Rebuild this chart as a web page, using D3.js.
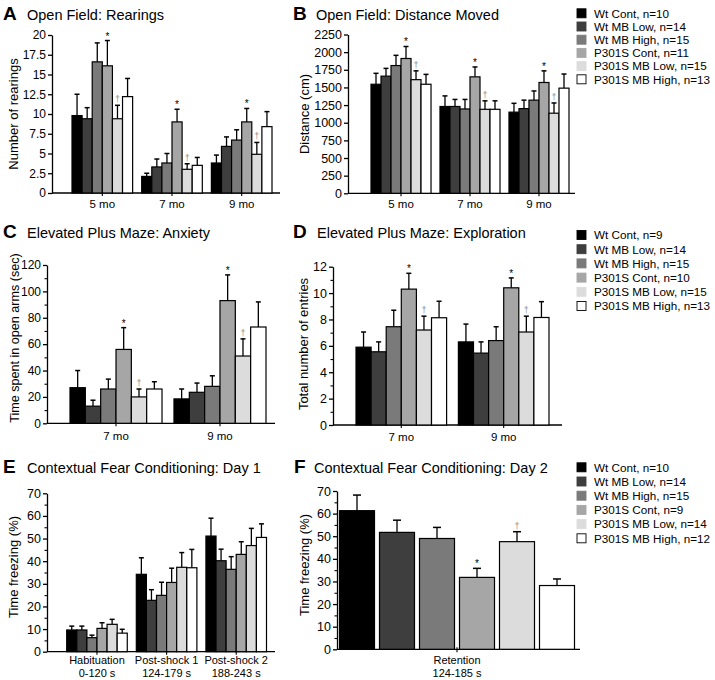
<!DOCTYPE html>
<html><head><meta charset="utf-8">
<script src="https://cdn.jsdelivr.net/npm/d3@7"></script>
<style>
body{margin:0;background:#fff;}
text{font-family:"Liberation Sans",Arial,Helvetica,sans-serif;fill:#000;}
</style></head>
<body>
<svg id="chart" width="715" height="680"></svg>
<script>
// ---------- DATA ----------
const seriesNames = ["Wt Cont","Wt MB Low","Wt MB High","P301S Cont","P301S MB Low","P301S MB High"];
const legendN1 = [10,14,15,11,15,13];
const legendN2 = [9,14,15,10,15,13];
const legendN3 = [10,14,15,9,14,12];

const rearingsCats = ["5 mo","7 mo","9 mo"];
const rearingsMean = [[9.8,9.4,16.6,16.1,9.4,12.2],[2.1,3.3,3.8,9.0,3.0,3.5],[3.8,5.9,6.7,9.0,4.9,8.4]];
const rearingsSem  = [[2.7,1.4,2.4,3.2,1.7,2.3],[0.4,1.0,1.2,1.6,0.7,1.0],[1.0,1.2,1.3,1.7,1.5,1.9]];
const rearingsStar = [3,3,3];
const rearingsDagger = [4,4,4];
const rearingsTicks = [0,2.5,5,7.5,10,12.5,15,17.5,20];

const distanceCats = ["5 mo","7 mo","9 mo"];
const distanceMean = [[1545,1660,1810,1910,1610,1545],[1230,1230,1195,1650,1190,1190],[1150,1200,1320,1570,1135,1490]];
const distanceSem  = [[155,110,145,170,125,140],[150,100,135,140,120,120],[125,120,130,165,145,200]];
const distanceStar = [3,3,3];
const distanceDagger = [4,4,4];
const distanceTicks = [0,250,500,750,1000,1250,1500,1750,2000,2250];

const anxietyCats = ["7 mo","9 mo"];
const anxietyMean = [[27,13,26,56,20,26],[18.5,23.5,28,93,51,73]];
const anxietySem  = [[13,4.5,7.5,16.5,6,5.5],[7.5,7,8,19.5,13,19]];
const anxietyStar = [3,3];
const anxietyDagger = [4,4];
const anxietyTicks = [0,20,40,60,80,100,120];
const anxietyMinor = [10,30,50,70,90,110];

const exploreCats = ["7 mo","9 mo"];
const exploreMean = [[5.9,5.55,7.45,10.3,7.2,8.13],[6.3,5.45,6.4,10.4,7.05,8.15]];
const exploreSem  = [[1.15,0.75,1.25,1.2,1.05,1.25],[1.35,0.85,1.05,0.75,1.2,1.2]];
const exploreStar = [3,3];
const exploreDagger = [4,4];
const exploreTicks = [0,2,4,6,8,10,12];
const exploreMinor = [1,3,5,7,9,11];

const day1Cats = ["Habituation\n0-120 s","Post-shock 1\n124-179 s","Post-shock 2\n188-243 s"];
const day1Mean = [[9.6,9.6,6.2,10.3,12.1,8.2],[34.2,22.7,24.9,30.6,37.3,37.1],[51.1,40.2,36.4,43,46.9,50.5]];
const day1Sem  = [[1.7,1.7,1.1,2.5,2.2,1.7],[7.3,4.7,5.8,6.3,6.5,8.1],[7.9,5.1,5.6,5.6,7.6,6.0]];
const day1Star = [null,null,null];
const day1Dagger = [null,null,null];
const freezeTicks = [0,10,20,30,40,50,60,70];
const freezeMinor = [5,15,25,35,45,55,65];

const day2Cats = ["Retention\n124-185 s"];
const day2Mean = [[61.3,51.7,49.0,31.8,47.6,28.2]];
const day2Sem  = [[6.9,5.4,4.9,4.0,4.4,2.9]];
const day2Star = [3];
const day2Dagger = [4];

// ---------- STYLE ----------
const fills = ["#000000","#3e3e3e","#7a7a7a","#a6a6a6","#dcdcdc","#ffffff"];
const FONT = '"Liberation Sans",Arial,Helvetica,sans-serif';

const svg = d3.select("#chart");

function drawPanel(cfg, cats, mean, sem, stars, daggers, ticks, minor){
  const g = svg.append("g");
  const y = d3.scaleLinear().domain([0, ticks[ticks.length-1]]).range([cfg.y0, cfg.yTop]);
  const x0 = d3.scaleBand().domain(cats).range(cfg.band).paddingInner(cfg.padGroup).paddingOuter(0);
  const x1 = d3.scaleBand().domain(d3.range(6)).range([0, x0.bandwidth()]).paddingInner(cfg.padBar);

  // title
  g.append("text").attr("x", cfg.letterX).attr("y", cfg.titleY)
    .attr("font-size", 19).attr("font-weight", "bold").text(cfg.letter);
  g.append("text").attr("x", cfg.titleX).attr("y", cfg.titleY)
    .attr("font-size", 14.5).text(cfg.title);

  // y axis
  const ay = g.append("g").attr("transform", `translate(${cfg.axisX},0)`)
    .call(d3.axisLeft(y).tickValues(ticks).tickSizeInner(4).tickSizeOuter(0).tickPadding(2)
      .tickFormat(d => String(d)));
  ay.selectAll("text").attr("font-size", cfg.tickFont).attr("font-family", FONT).style("fill", "#000");
  ay.selectAll("line,path").attr("stroke", "#000").attr("stroke-width", 1.3);
  if (minor) {
    g.append("g").attr("transform", `translate(${cfg.axisX},0)`)
      .call(d3.axisLeft(y).tickValues(minor).tickSizeInner(2.5).tickSizeOuter(0).tickFormat(""))
      .call(s => s.select(".domain").remove())
      .selectAll("line").attr("stroke", "#000").attr("stroke-width", 1.1);
  }
  // y title
  g.append("text")
    .attr("transform", `translate(${cfg.yTitleX},${cfg.yTitleCY}) rotate(-90)`)
    .attr("text-anchor", "middle").attr("font-size", cfg.yTitleFont).text(cfg.yTitle);

  // x axis line
  g.append("line").attr("x1", cfg.axisX).attr("x2", cfg.axisEnd)
    .attr("y1", y(0)).attr("y2", y(0)).attr("stroke", "#000").attr("stroke-width", 1.3);

  cats.forEach((c, gi) => {
    const gx = x0(c);
    const cx = gx + x0.bandwidth()/2;
    g.append("line").attr("x1", cx).attr("x2", cx).attr("y1", y(0) - 2).attr("y2", y(0) + 3)
      .attr("stroke", "#000").attr("stroke-width", 1.1);
    const lines = c.split("\n");
    const t = g.append("text").attr("text-anchor", "middle").attr("font-size", cfg.catFont);
    lines.forEach((ln, li) => {
      t.append("tspan").attr("x", cx).attr("y", cfg.catY + li * 13.5).text(ln);
    });
    mean[gi].forEach((v, i) => {
      const bx = gx + x1(i);
      const bw = x1.bandwidth();
      const top = v + sem[gi][i];
      const mx = bx + bw/2;
      g.append("line").attr("x1", mx).attr("x2", mx).attr("y1", y(v)).attr("y2", y(top))
        .attr("stroke", "#000").attr("stroke-width", 1.3);
      g.append("line").attr("x1", mx - cfg.cap/2).attr("x2", mx + cfg.cap/2)
        .attr("y1", y(top)).attr("y2", y(top)).attr("stroke", "#000").attr("stroke-width", 1.5);
      g.append("rect").attr("x", bx).attr("y", y(v)).attr("width", bw).attr("height", y(0) - y(v))
        .attr("fill", fills[i]).attr("stroke", "#000").attr("stroke-width", 1.2);
      if (stars[gi] === i) {
        g.append("text").attr("x", mx).attr("y", y(top) - 1).attr("text-anchor", "middle")
          .attr("font-size", 10).style("fill", "#000").text("*");
      }
      if (daggers[gi] === i) {
        g.append("text").attr("x", mx).attr("y", y(top) - 3).attr("text-anchor", "middle")
          .attr("font-size", 9).style("fill", "#8c8c8c").text("\u2020");
      }
    });
  });
}

function drawLegend(x, y0, step, ns){
  const g = svg.append("g");
  seriesNames.forEach((name, i) => {
    const cy = y0 + i * step;
    g.append("rect").attr("x", x).attr("y", cy - 4.5).attr("width", 9).attr("height", 9)
      .attr("fill", fills[i]).attr("stroke", i === 5 ? "#000" : fills[i]).attr("stroke-width", 0.9);
    g.append("text").attr("x", x + 17).attr("y", cy + 4.3).attr("font-size", 11.7)
      .text(`${name}, n=${ns[i]}`);
  });
}

drawPanel({letter:"A", letterX:3, titleX:27, titleY:20, title:"Open Field: Rearings",
  axisX:52, axisEnd:280, y0:193, yTop:35, band:[72,272], padGroup:0.13, padBar:0, cap:5,
  yTitle:"Number of rearings", yTitleX:18, yTitleCY:114, yTitleFont:13, tickFont:12, catFont:11.5, catY:208},
  rearingsCats, rearingsMean, rearingsSem, rearingsStar, rearingsDagger, rearingsTicks, null);

drawPanel({letter:"B", letterX:293, titleX:316, titleY:20, title:"Open Field: Distance Moved",
  axisX:348, axisEnd:575, y0:193.3, yTop:34.5, band:[371,569], padGroup:0.13, padBar:0, cap:5,
  yTitle:"Distance (cm)", yTitleX:309, yTitleCY:114, yTitleFont:13, tickFont:12.5, catFont:11.5, catY:208},
  distanceCats, distanceMean, distanceSem, distanceStar, distanceDagger, distanceTicks, null);

drawPanel({letter:"C", letterX:3, titleX:27, titleY:238, title:"Elevated Plus Maze: Anxiety",
  axisX:47, axisEnd:275, y0:423.3, yTop:265, band:[70,266], padGroup:0.115, padBar:0, cap:5,
  yTitle:"Time spent in open arms (sec)", yTitleX:18.5, yTitleCY:338, yTitleFont:12.6, tickFont:12, catFont:11.5, catY:440},
  anxietyCats, anxietyMean, anxietySem, anxietyStar, anxietyDagger, anxietyTicks, anxietyMinor);

drawPanel({letter:"D", letterX:293, titleX:317, titleY:238, title:"Elevated Plus Maze: Exploration",
  axisX:333, axisEnd:562, y0:425, yTop:266.7, band:[356,549], padGroup:0.115, padBar:0, cap:5,
  yTitle:"Total number of entries", yTitleX:308, yTitleCY:344, yTitleFont:13, tickFont:12.5, catFont:11.5, catY:441},
  exploreCats, exploreMean, exploreSem, exploreStar, exploreDagger, exploreTicks, exploreMinor);

drawPanel({letter:"E", letterX:3, titleX:27, titleY:473, title:"Contextual Fear Conditioning: Day 1",
  axisX:47, axisEnd:275, y0:651.7, yTop:493.3, band:[66.7,266.5], padGroup:0.13, padBar:0, cap:5,
  yTitle:"Time freezing (%)", yTitleX:17.5, yTitleCY:567, yTitleFont:13, tickFont:12.5, catFont:11, catY:663.5},
  day1Cats, day1Mean, day1Sem, day1Star, day1Dagger, freezeTicks, freezeMinor);

drawPanel({letter:"F", letterX:294, titleX:314, titleY:473, title:"Contextual Fear Conditioning: Day 2",
  axisX:337, axisEnd:580, y0:649.3, yTop:491, band:[339.5,574.5], padGroup:0, padBar:0.125, cap:8,
  yTitle:"Time freezing (%)", yTitleX:308.5, yTitleCY:565, yTitleFont:13, tickFont:12.5, catFont:11, catY:663.5},
  day2Cats, day2Mean, day2Sem, day2Star, day2Dagger, freezeTicks, freezeMinor);

drawLegend(577, 13.3, 13.2, legendN1);
drawLegend(577, 235, 14.2, legendN2);
drawLegend(577, 467.3, 14.2, legendN3);
</script>
</body></html>
